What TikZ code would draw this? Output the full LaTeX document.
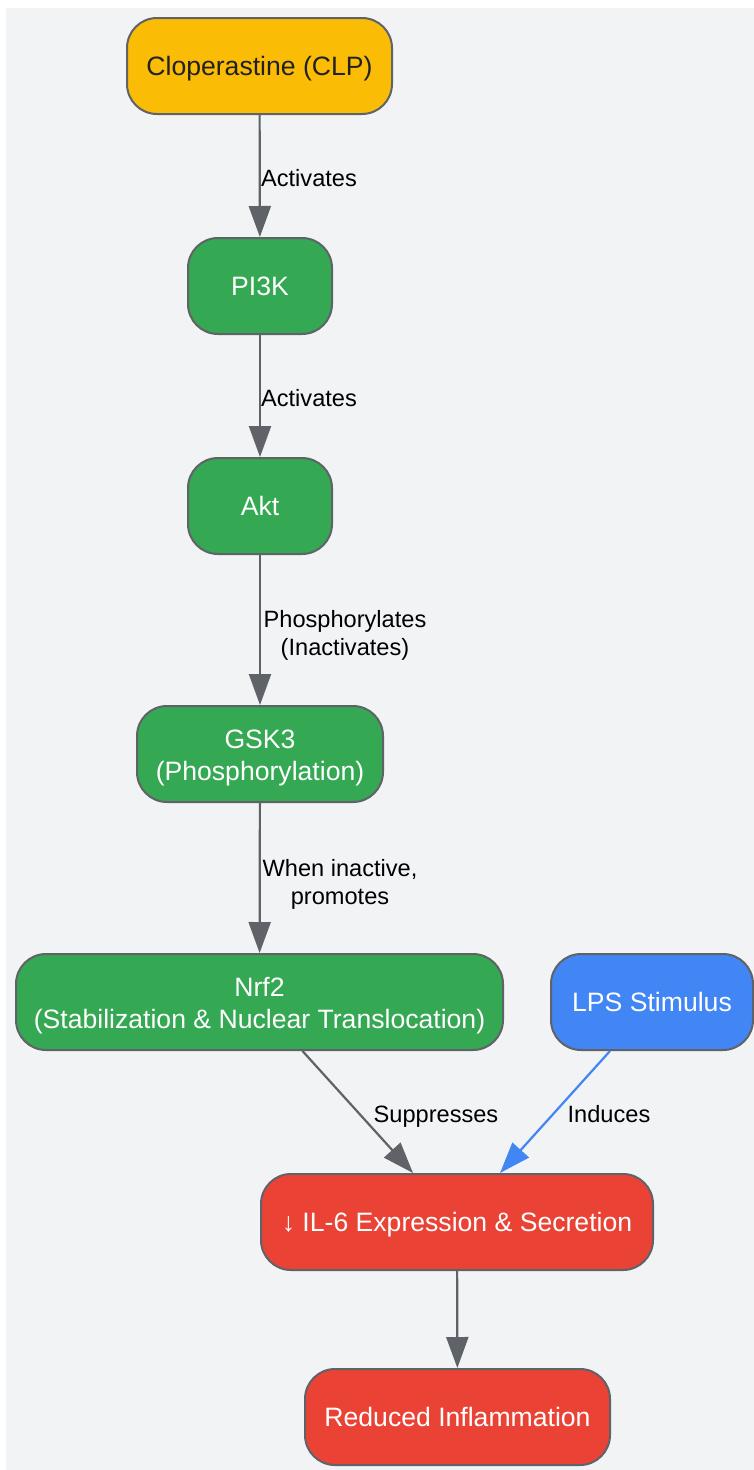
\documentclass[tikz,border=0pt]{standalone}
\usepackage{fontspec}
\setmainfont{Liberation Sans}
\usetikzlibrary{arrows.meta,calc}
\definecolor{bg}{HTML}{F1F3F5}
\definecolor{edge}{HTML}{5F6368}
\definecolor{cyel}{HTML}{FBBC05}
\definecolor{cgrn}{HTML}{34A853}
\definecolor{cblu}{HTML}{4285F4}
\definecolor{cred}{HTML}{EA4335}
\definecolor{dtext}{HTML}{202124}
\tikzset{
  box/.style={draw=edge, line width=2pt, rounded corners=30pt, minimum height=96pt, inner sep=0pt, align=center, text=white, font=\fontsize{26.6}{32}\selectfont},
  one/.style={text height=24pt, text depth=5.6pt},
  two/.style={text height=59pt, text depth=5.6pt},
  conn/.style={draw=edge, line width=2.2pt, -{Triangle[length=31pt,width=22pt]}},
  lbl/.style={font=\fontsize{23.6}{28}\selectfont, align=center, text=black}
}
\begin{document}
\begin{tikzpicture}[x=1pt,y=-1pt]
\useasboundingbox (0,0) rectangle (754,1470);
\fill[bg] (6,8) rectangle (754,1470);
\node[box, one, fill=cyel, text=dtext, minimum width=265pt] (clp) at (259.5,66) {Cloperastine (CLP)};
\node[box, one, fill=cgrn, minimum width=144pt] (pi3k) at (260,286) {PI3K};
\node[box, one, fill=cgrn, minimum width=144pt] (akt) at (260,506) {Akt};
\node[box, two, fill=cgrn, minimum width=246pt] (gsk) at (260,754) {GSK3\\(Phosphorylation)};
\node[box, two, fill=cgrn, minimum width=487pt] (nrf) at (259.5,1002) {Nrf2\\(Stabilization \& Nuclear Translocation)};
\node[box, one, fill=cblu, minimum width=202pt] (lps) at (652,1002) {LPS Stimulus};
\node[box, one, fill=cred, minimum width=392pt] (il6) at (457,1222) {↓ IL-6 Expression \& Secretion};
\node[box, one, fill=cred, minimum width=305pt] (red) at (457.5,1417) {Reduced Inflammation};

\draw[conn] (clp) -- (pi3k);
\draw[conn] (pi3k) -- (akt);
\draw[conn] (akt) -- (gsk);
\draw[conn] (gsk) -- (nrf);
\draw[conn] ([xshift=43pt]nrf.south) -- ([xshift=-44pt]il6.north);
\draw[conn, draw=cblu, fill=cblu] ([xshift=-42pt]lps.south) -- ([xshift=43pt]il6.north);
\draw[conn] (il6) -- (red);

\node[lbl] (l1) at (309,178) {Activates};
\node[lbl] (l2) at (309,398) {Activates};
\node[lbl] (l3) at (345,635) {Phosphorylates\\(Inactivates)};
\node[lbl] (l4) at (340,884) {When inactive,\\promotes};
\node[lbl] (l5) at (436,1117) {Suppresses};
\node[lbl] (l6) at (609,1114) {Induces};
\end{tikzpicture}
\end{document}
